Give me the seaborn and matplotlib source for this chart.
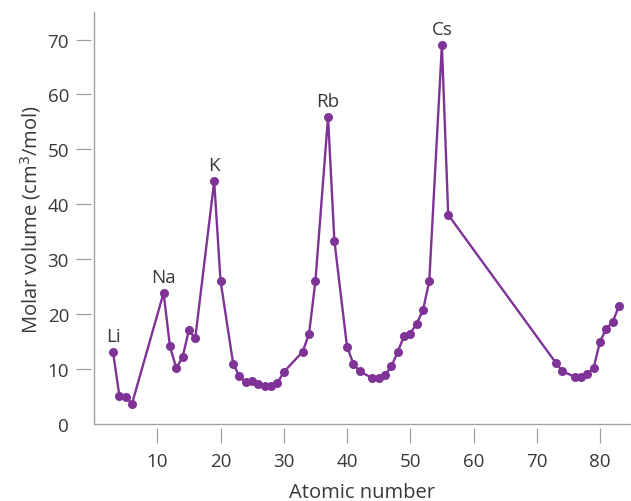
import pandas as pd
import matplotlib
matplotlib.use('Agg')
import matplotlib.pyplot as plt
import seaborn as sns

# Molar volume (cm^3/mol)
atomic_number = [3, 4, 5, 6,
                 11, 12, 13, 14, 15, 16,
                 19, 20, 22, 23, 24, 25, 26, 27, 28, 29, 30, 33, 34, 35,
                 37, 38, 40, 41, 42, 44, 45, 46, 47, 48, 49, 50, 51, 52, 53,
                 55, 56, 73, 74, 76, 77, 78, 79, 80, 81, 82, 83]
molar_volume = [13.2, 5.2, 5.0, 3.7,
                23.9, 14.2, 10.2, 12.2, 17.1, 15.6,
                44.2, 26.1, 11.0, 8.7, 7.6, 7.8, 7.3, 6.9, 7.0, 7.5, 9.5, 13.2, 16.5, 26.0,
                55.9, 33.4, 14.1, 11.0, 9.6, 8.4, 8.4, 9.0, 10.5, 13.1, 16.0, 16.5, 18.3, 20.7, 26.0,
                69.0, 38.1, 11.2, 9.7, 8.6, 8.6, 9.1, 10.3, 15.0, 17.4, 18.6, 21.5]
label_elements = ['Li', 'Na', 'K', 'Rb', 'Cs']
label_numbers = [3, 11, 19, 37, 55]

df = pd.DataFrame({'z': atomic_number, 'v': molar_volume})

sns.set_style('white')
plt.rcParams['font.family'] = ['Open Sans', 'DejaVu Sans']
text_color = '#383838'
axis_color = '#a0a0a0'
purple = '#7f3396'

fig = plt.figure(figsize=(6.31, 5.02), dpi=100)
ax = fig.add_axes([0.149, 0.153, 0.849, 0.821])

sns.lineplot(data=df, x='z', y='v', ax=ax, color=purple, linewidth=1.7,
             marker='o', markersize=6.5, markeredgewidth=0, markeredgecolor=purple)

# element labels above the alkali peaks
for name, z in zip(label_elements, label_numbers):
    v = df.loc[df['z'] == z, 'v'].iloc[0]
    ax.annotate(name, xy=(z, v), xytext=(0, 5), textcoords='offset points',
                ha='center', va='bottom', fontsize=13.5, color=text_color)

ax.set_xlim(0, 84.7)
ax.set_ylim(0, 75)
ax.set_xticks(range(10, 90, 10))
ax.set_yticks(range(0, 80, 10))

# detached ticks: hide real spines, push them out, draw the frame lines inside
for side in ['top', 'right', 'left', 'bottom']:
    ax.spines[side].set_visible(False)
ax.spines['left'].set_position(('outward', 2.5))
ax.spines['bottom'].set_position(('outward', 2.5))
ax.axvline(0, color=axis_color, linewidth=1.0, clip_on=False)
ax.axhline(0, color=axis_color, linewidth=1.0, clip_on=False)

ax.tick_params(axis='both', direction='out', length=10.5, width=0.9,
               color=axis_color, labelsize=13.5, labelcolor=text_color,
               left=True, bottom=True)
ax.tick_params(axis='x', pad=7)
ax.tick_params(axis='y', pad=5)
ax.yaxis.get_major_ticks()[0].tick1line.set_visible(False)

ax.set_xlabel('Atomic number', fontsize=14.5, color=text_color, labelpad=9)
ax.set_ylabel('Molar volume (cm$^3$/mol)', fontsize=14.5, color=text_color, labelpad=3)

fig.savefig('out.png', dpi=100)
